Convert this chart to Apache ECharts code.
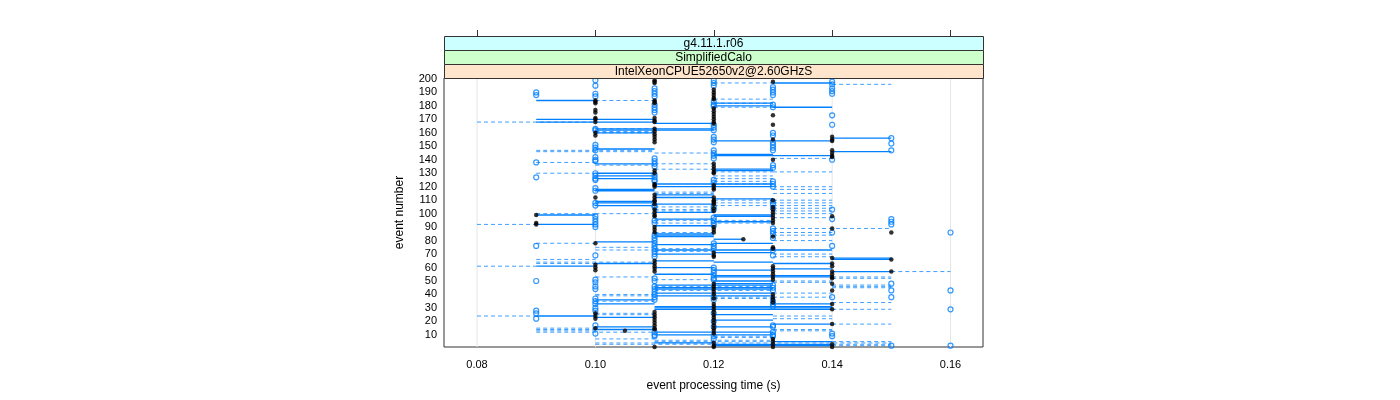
<!DOCTYPE html>
<html>
<head>
<meta charset="utf-8">
<script src="https://cdn.jsdelivr.net/npm/echarts@6/dist/echarts.min.js"></script>
<style>html,body{margin:0;padding:0;background:#fff}#c{width:1400px;height:400px}</style>
</head>
<body>
<div id="c"></div>
<script>
// ---- data ----
const xTicks = [0.08, 0.10, 0.12, 0.14, 0.16];
const yTicks = [10, 20, 30, 40, 50, 60, 70, 80, 90, 100, 110, 120, 130, 140, 150, 160, 170, 180, 190, 200];
const stripLabels = ['g4.11.1.r06', 'SimplifiedCalo', 'IntelXeonCPUE52650v2@2.60GHzS'];
const xTitle = 'event processing time (s)';
const yTitle = 'event number';

// black filled points: [time (s), event number]
const blackPts = [
  [.09,99],[.09,93],[.09,92],
  [.10,184],[.10,183],[.10,182],[.10,177],[.10,175],[.10,171],[.10,170],[.10,168],[.10,160],[.10,158],[.10,112],[.10,78],[.10,62],[.10,60],[.10,58],[.10,26],[.10,24],[.10,22],[.10,15],
  [.105,13],
  [.11,199],[.11,198],[.11,197],[.11,184],[.11,183],[.11,182],[.11,171],[.11,169],[.11,168],[.11,163],[.11,161],[.11,159],[.11,157],[.11,155],[.11,153],[.11,132],[.11,130],[.11,122],[.11,121],[.11,120],[.11,114],[.11,112],[.11,110],[.11,109],[.11,107],[.11,103],[.11,101],[.11,99],[.11,98],[.11,90],[.11,88],[.11,86],[.11,65],[.11,63],[.11,61],[.11,59],[.11,57],[.11,27],[.11,25],[.11,23],[.11,21],[.11,19],[.11,17],[.11,15],[.11,14],[.11,1],
  [.12,192],[.12,190],[.12,188],[.12,186],[.12,185],[.12,178],[.12,176],[.12,174],[.12,172],[.12,170],[.12,168],[.12,167],[.12,137],[.12,135],[.12,133],[.12,131],[.12,130],[.12,121],[.12,119],[.12,118],[.12,112],[.12,110],[.12,109],[.12,108],[.12,107],[.12,104],[.12,102],[.12,90],[.12,88],[.12,86],[.12,71],[.12,69],[.12,68],[.12,48],[.12,46],[.12,44],[.12,42],[.12,40],[.12,37],[.12,33],[.12,31],[.12,29],[.12,27],[.12,25],[.12,23],[.12,21],[.12,19],[.12,17],[.12,15],[.12,13],[.12,11],[.12,4],[.12,2],[.12,1],
  [.125,81],
  [.13,198],[.13,173],[.13,166],[.13,155],[.13,140],[.13,110],[.13,105],[.13,103],[.13,101],[.13,99],[.13,97],[.13,95],[.13,93],[.13,83],[.13,75],[.13,74],[.13,61],[.13,59],[.13,57],[.13,55],[.13,53],[.13,51],[.13,40],[.13,38],[.13,36],[.13,34],[.13,7],[.13,5],[.13,3],[.13,1],
  [.14,157],[.14,155],[.14,154],[.14,147],[.14,145],[.14,143],[.14,142],[.14,98],[.14,89],[.14,67],[.14,63],[.14,61],[.14,57],[.14,55],[.14,53],[.14,52],[.14,48],[.14,43],[.14,33],[.14,29],[.14,18],[.14,3],[.14,1],
  [.15,86],[.15,66],[.15,57]
];

// blue open circles: [time (s), event number]
const bluePts = [
  [.09,190],[.09,188],[.09,138],[.09,127],[.09,76],[.09,50],[.09,28],[.09,26],[.09,22],
  [.10,199],[.10,195],[.10,189],[.10,187],[.10,163],[.10,162],[.10,151],[.10,149],[.10,147],[.10,142],[.10,140],[.10,139],[.10,130],[.10,128],[.10,126],[.10,125],[.10,119],[.10,117],[.10,108],[.10,106],[.10,98],[.10,96],[.10,94],[.10,92],[.10,90],[.10,69],[.10,51],[.10,49],[.10,46],[.10,44],[.10,37],[.10,35],[.10,33],[.10,30],[.10,28],[.10,17],[.10,11],
  [.11,193],[.11,191],[.11,189],[.11,187],[.11,181],[.11,179],[.11,177],[.11,175],[.11,141],[.11,139],[.11,137],[.11,135],[.11,129],[.11,127],[.11,125],[.11,124],[.11,106],[.11,105],[.11,95],[.11,93],[.11,84],[.11,82],[.11,80],[.11,78],[.11,76],[.11,74],[.11,72],[.11,70],[.11,68],[.11,52],[.11,50],[.11,46],[.11,44],[.11,42],[.11,40],[.11,38],[.11,36],[.11,12],[.11,10],[.11,9],
  [.12,199],[.12,197],[.12,195],[.12,183],[.12,181],[.12,180],[.12,166],[.12,164],[.12,162],[.12,157],[.12,155],[.12,153],[.12,147],[.12,145],[.12,143],[.12,141],[.12,125],[.12,123],[.12,105],[.12,103],[.12,97],[.12,95],[.12,93],[.12,91],[.12,78],[.12,76],[.12,74],[.12,60],[.12,58],[.12,56],[.12,54],[.12,52],[.12,51],[.12,38],[.12,36],[.12,26],[.12,20],[.12,16],[.12,9],[.12,7],
  [.13,194],[.13,192],[.13,190],[.13,188],[.13,181],[.13,179],[.13,160],[.13,158],[.13,153],[.13,151],[.13,149],[.13,147],[.13,136],[.13,134],[.13,124],[.13,122],[.13,120],[.13,109],[.13,107],[.13,104],[.13,89],[.13,87],[.13,85],[.13,82],[.13,73],[.13,69],[.13,47],[.13,45],[.13,43],[.13,35],[.13,33],[.13,31],[.13,17],[.13,16],[.13,12],[.13,10],[.13,9],
  [.14,198],[.14,196],[.14,193],[.14,191],[.14,189],[.14,173],[.14,166],[.14,140],[.14,103],[.14,96],[.14,86],[.14,76],[.14,38],[.14,11],[.14,9],
  [.15,156],[.15,152],[.15,147],[.15,96],[.15,94],[.15,92],[.15,48],[.15,43],[.15,38],[.15,2],
  [.16,86],[.16,43],[.16,29],[.16,2]
];

// solid blue segments: [from (s), to (s), event number]
const solidSegs = [
  [.09,.10,184],[.09,.11,170],[.09,.11,168],[.09,.10,99],[.09,.10,92],[.09,.10,61],[.09,.10,24],
  [.13,.14,197],[.12,.13,182],[.12,.13,180],[.13,.14,179],[.11,.12,167],[.10,.12,163],[.10,.12,162],[.10,.11,160],
  [.14,.15,156],[.12,.14,154],[.10,.11,148],[.14,.15,146],[.12,.14,143],[.12,.13,144],[.10,.11,137],[.12,.13,133],[.12,.13,132],
  [.10,.11,130],[.10,.11,128],[.10,.11,126],[.11,.13,122],[.11,.13,120],[.10,.11,118],[.10,.11,117],[.11,.12,114],[.11,.12,112],
  [.12,.13,111],[.10,.11,109],[.10,.11,108],[.11,.12,107],[.10,.11,106],
  [.11,.12,101],[.12,.13,99],[.12,.13,98],[.11,.12,96],[.12,.13,94],[.11,.12,91],[.11,.12,85],[.11,.12,84],[.11,.12,83],[.12,.125,81],
  [.10,.11,79],[.12,.13,78],[.11,.12,77],[.11,.14,73],[.12,.13,71],[.11,.12,70],[.14,.15,67],[.14,.15,66],[.11,.12,65],[.12,.13,64],
  [.10,.11,63],[.13,.14,63],[.11,.12,60],[.13,.14,59],[.12,.13,58],[.14,.15,57],[.11,.12,55],[.12,.14,54],[.12,.14,53],[.12,.13,50],
  [.12,.13,48],[.11,.13,47],[.11,.13,45],[.11,.13,44],[.11,.13,41],[.11,.13,39],[.10,.11,36],[.10,.11,33],[.13,.14,33],
  [.11,.14,31],[.11,.14,30],[.11,.14,29],[.12,.13,25],[.10,.11,23],[.12,.13,21],[.13,.14,18],[.10,.11,16],[.12,.13,16],[.10,.11,14],
  [.11,.13,12],[.11,.13,10],[.13,.14,5],[.11,.12,4],[.12,.14,3],[.12,.14,2]
];

// dashed blue segments: [from (s), to (s), event number]
const dashSegs = [
  [.08,.10,168],[.08,.09,92],[.08,.09,61],[.08,.09,24],
  [.09,.11,147],[.09,.11,146],[.09,.10,138],[.09,.10,130],[.09,.10,100],[.09,.10,78],[.09,.11,64],[.09,.11,63],[.09,.11,14],[.09,.11,12],
  [.12,.13,197],[.14,.15,196],[.12,.13,185],[.10,.11,184],[.12,.13,182],[.12,.13,179],[.10,.11,163],[.10,.11,161],[.10,.11,160],
  [.11,.12,145],[.13,.14,141],[.11,.12,137],[.10,.11,136],[.11,.12,133],[.12,.13,131],[.13,.14,131],[.12,.13,128],[.12,.13,126],
  [.12,.13,124],[.12,.13,122],[.13,.14,120],[.13,.14,118],[.11,.12,116],[.11,.12,115],[.13,.14,115],[.12,.13,110],[.13,.14,110],
  [.12,.13,108],[.13,.14,108],[.12,.13,106],[.13,.14,106],[.11,.12,105],[.13,.14,104],[.11,.12,103],[.11,.12,102],[.13,.14,102],
  [.10,.11,100],[.13,.14,100],[.13,.14,97],[.11,.13,95],[.11,.13,93],[.13,.15,89],[.11,.12,86],[.13,.14,86],[.13,.14,84],[.13,.14,80],
  [.10,.11,75],[.11,.12,74],[.10,.11,73],[.11,.12,72],[.13,.14,70],[.13,.14,68],[.09,.10,66],[.15,.16,57],[.10,.11,53],[.14,.15,53],
  [.14,.15,52],[.11,.12,51],[.13,.14,50],[.13,.14,49],[.14,.15,47],[.11,.13,46],[.14,.15,46],[.14,.15,45],[.11,.13,43],[.13,.14,41],
  [.10,.11,40],[.10,.11,39],[.12,.13,38],[.13,.14,38],[.12,.13,37],[.10,.11,35],[.14,.15,34],[.14,.15,29],[.10,.11,26],[.10,.11,25],
  [.13,.14,24],[.13,.14,22],[.14,.15,18],[.09,.10,15],[.13,.14,14],[.09,.10,13],[.13,.14,13],[.12,.13,9],[.12,.13,8],[.10,.11,7],
  [.11,.13,6],[.11,.13,5],[.14,.15,5],[.10,.15,4],[.10,.12,3],[.14,.15,3],[.14,.15,2]
];

// ---- chart ----
const FONT = '"Liberation Sans", Arial, Helvetica, sans-serif';
const BLUE = '#0080ff';
const G = { left: 444, top: 78, width: 539, height: 269 };
const X_MIN = 0.07442, X_MAX = 0.16549, Y_MIN = 1, Y_MAX = 200.7;

function segRender(style) {
  return function (params, api) {
    const a = api.coord([api.value(0), api.value(2)]);
    const b = api.coord([api.value(1), api.value(2)]);
    return { type: 'line', shape: { x1: a[0], y1: a[1], x2: b[0], y2: b[1] }, style: Object.assign({}, style) };
  };
}

const chart = echarts.init(document.getElementById('c'), null, { renderer: 'canvas' });

const stripColors = ['#ccffff', '#ccffcc', '#ffe5cc'];
const stripH = 14;
const stripTop = G.top - 3 * stripH;
const graphics = [];
stripLabels.forEach((lab, i) => {
  graphics.push({
    type: 'rect', left: G.left, top: stripTop + i * stripH, z: 10,
    shape: { width: G.width, height: stripH },
    style: { fill: stripColors[i], stroke: '#333', lineWidth: 1 }
  });
  graphics.push({
    type: 'text', z: 11, x: G.left + G.width / 2, y: stripTop + i * stripH + stripH / 2 + 0.5,
    style: { text: lab, font: '12px ' + FONT, fill: '#000', align: 'center', verticalAlign: 'middle' }
  });
});

chart.setOption({
  animation: false,
  backgroundColor: '#fff',
  textStyle: { fontFamily: FONT },
  grid: { left: G.left, top: G.top, width: G.width, height: G.height, show: true, borderColor: '#333', borderWidth: 1, backgroundColor: 'transparent' },
  xAxis: [{
    type: 'value', min: X_MIN, max: X_MAX,
    name: xTitle, nameLocation: 'middle', nameGap: 33,
    nameTextStyle: { fontSize: 12, color: '#000', fontFamily: FONT },
    axisLine: { show: false }, axisTick: { show: false }, splitLine: { show: false },
    axisLabel: { customValues: xTicks, formatter: v => v.toFixed(2), fontSize: 11, color: '#000', margin: 12, fontFamily: FONT }
  }, {
    type: 'value', min: X_MIN, max: X_MAX, position: 'top', offset: 3 * stripH,
    axisLine: { show: false }, splitLine: { show: false },
    axisTick: { show: true, customValues: xTicks, length: 6, lineStyle: { color: '#333' } },
    axisLabel: { show: false }
  }],
  yAxis: {
    type: 'value', min: Y_MIN, max: Y_MAX,
    name: yTitle, nameLocation: 'middle', nameGap: 38, nameRotate: 90,
    nameTextStyle: { fontSize: 12, color: '#000', fontFamily: FONT },
    axisLine: { show: false }, axisTick: { show: false }, splitLine: { show: false },
    axisLabel: { customValues: yTicks, fontSize: 11, color: '#000', margin: 7, fontFamily: FONT }
  },
  graphic: graphics,
  series: [
    {
      type: 'custom', z: 1, silent: true, clip: true,
      data: xTicks.map(t => [t]),
      renderItem: function (params, api) {
        const a = api.coord([api.value(0), Y_MIN]);
        const b = api.coord([api.value(0), Y_MAX]);
        return { type: 'line', shape: { x1: a[0], y1: a[1], x2: b[0], y2: b[1] }, style: { stroke: '#e6e6e6', lineWidth: 1 } };
      }
    },
    {
      type: 'custom', z: 2, silent: true, clip: true,
      data: dashSegs, encode: { x: [0, 1], y: 2 },
      renderItem: segRender({ stroke: BLUE, lineWidth: 1, lineDash: [4, 3], opacity: 0.75 })
    },
    {
      type: 'custom', z: 3, silent: true, clip: true,
      data: solidSegs, encode: { x: [0, 1], y: 2 },
      renderItem: segRender({ stroke: BLUE, lineWidth: 1.3 })
    },
    {
      type: 'scatter', z: 4, silent: true, data: bluePts,
      symbol: 'circle', symbolSize: 5,
      itemStyle: { color: 'rgba(255,255,255,0)', borderColor: BLUE, borderWidth: 1.2 }
    },
    {
      type: 'scatter', z: 5, silent: true, data: blackPts,
      symbol: 'circle', symbolSize: 4.5,
      itemStyle: { color: '#000' }
    }
  ]
});
</script>
</body>
</html>
